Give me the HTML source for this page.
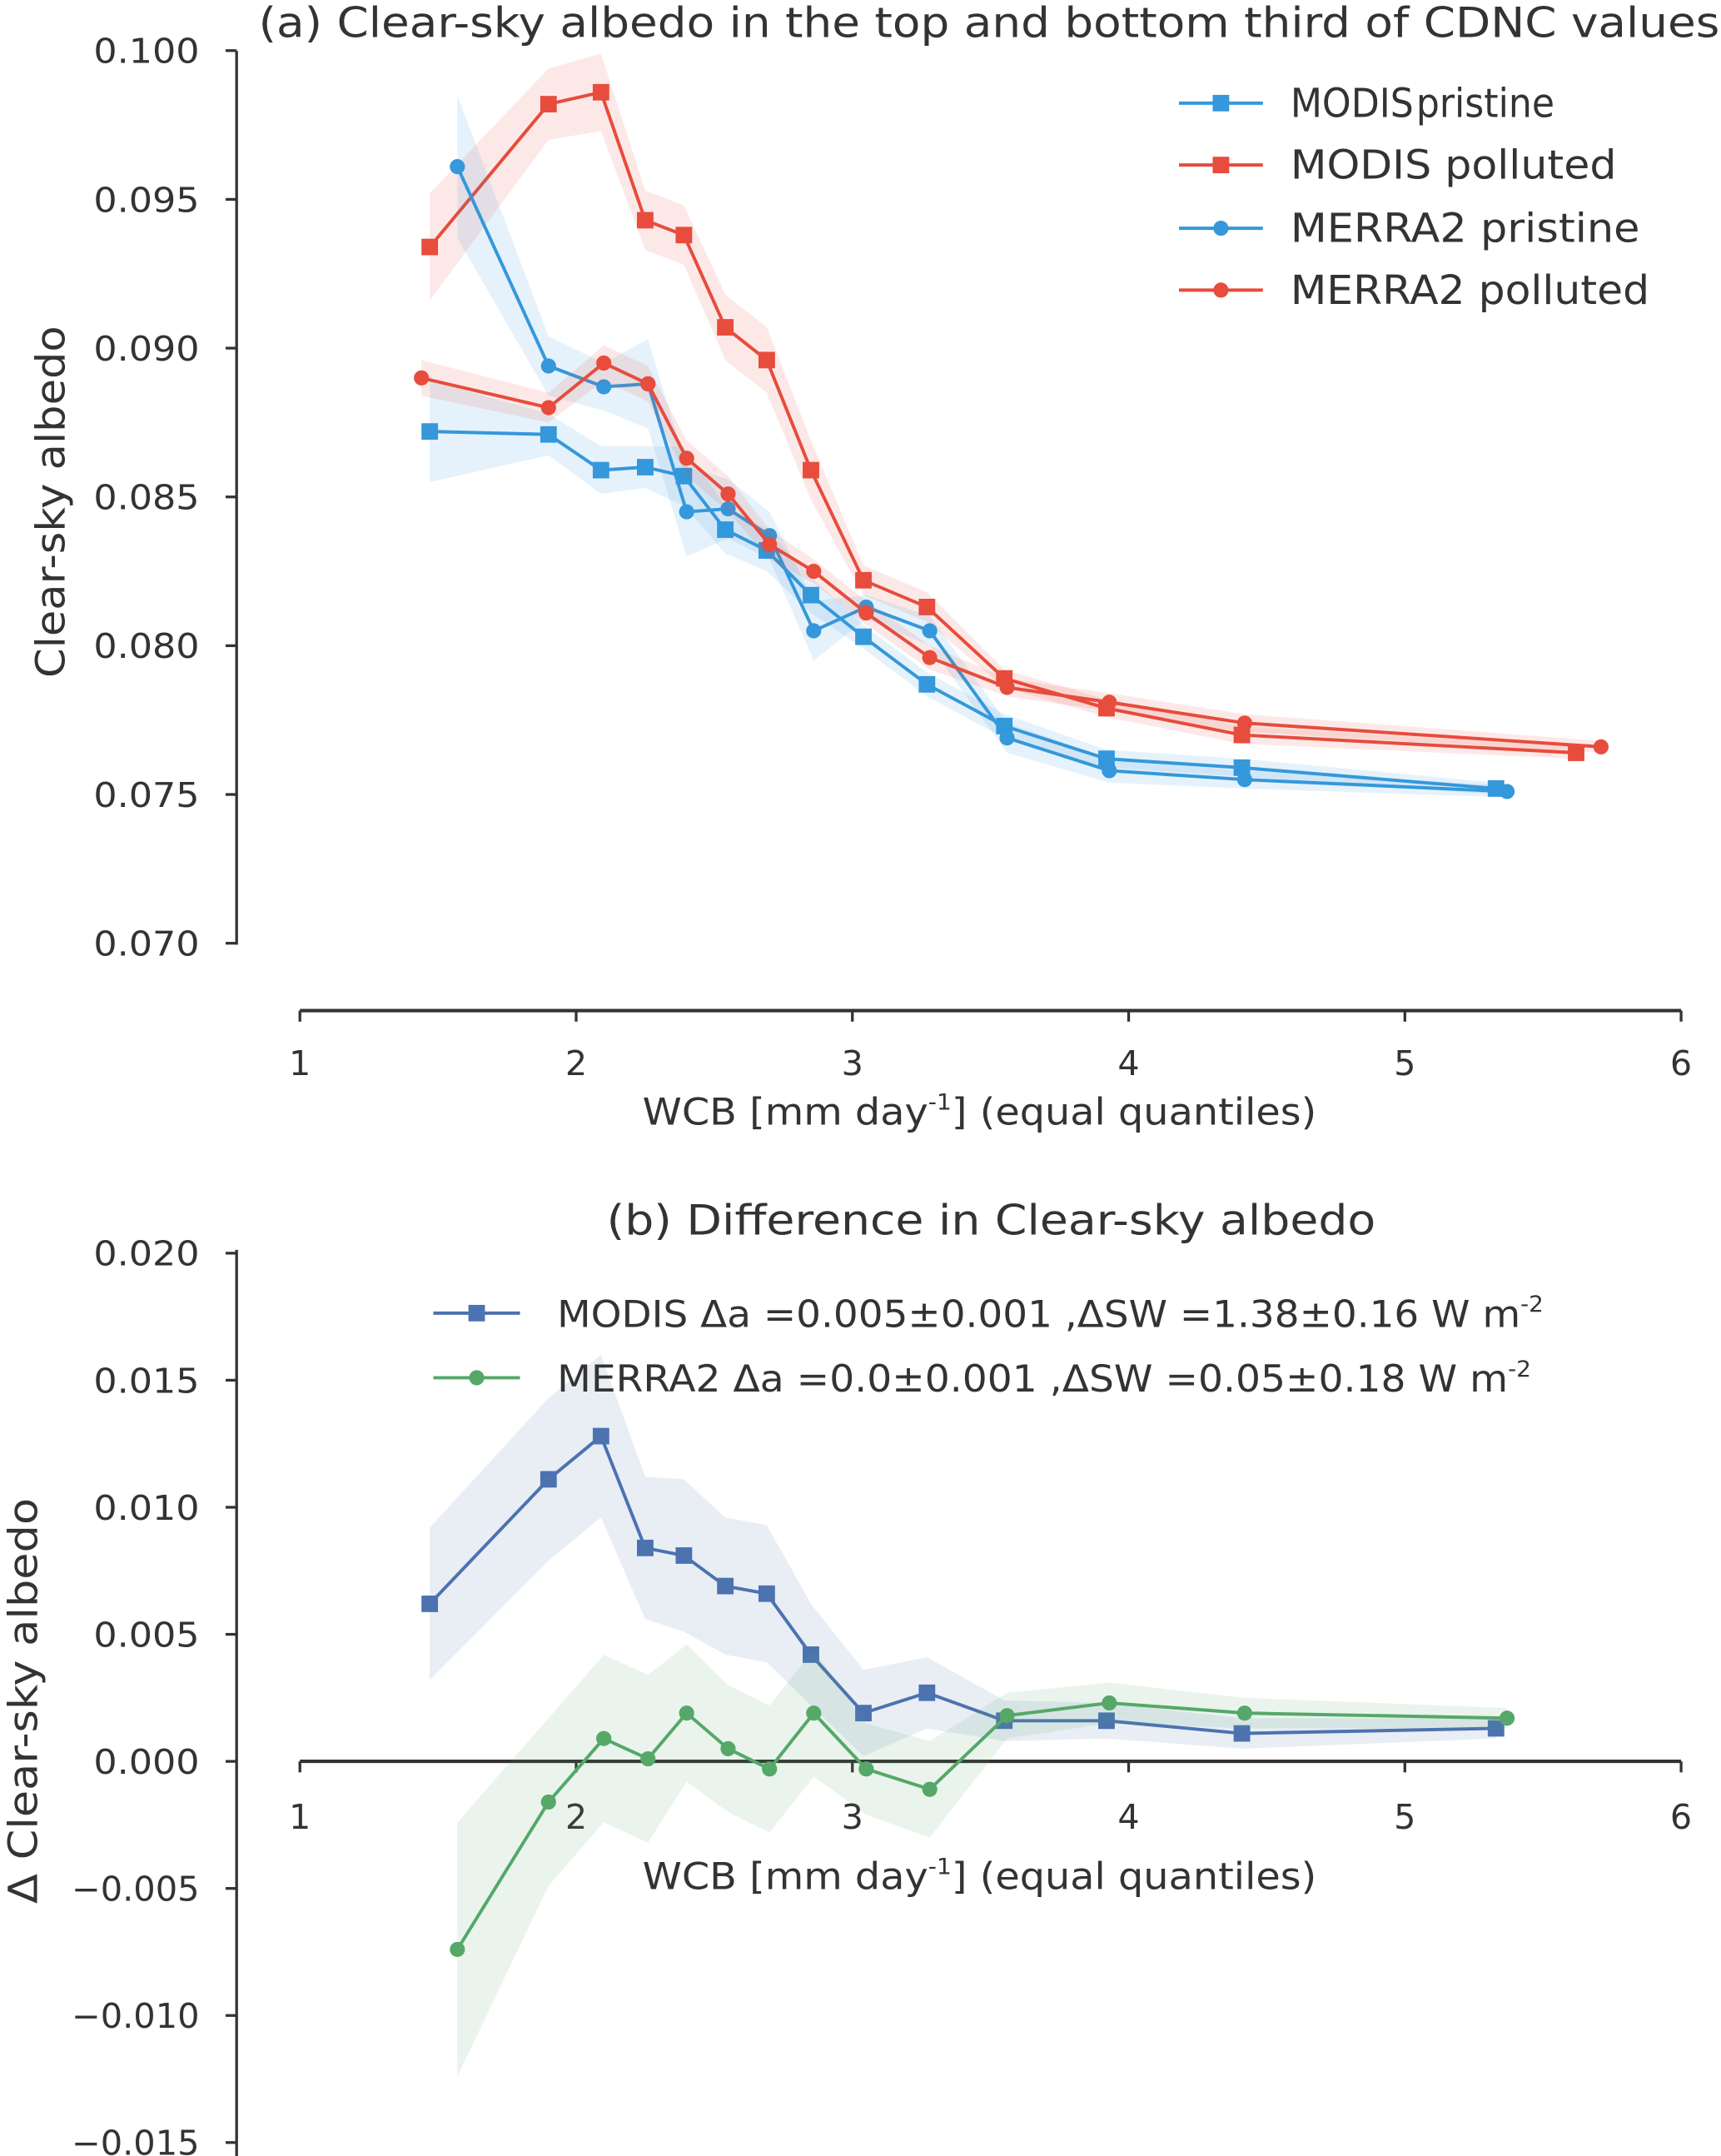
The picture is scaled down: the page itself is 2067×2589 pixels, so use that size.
<!DOCTYPE html>
<html><head><meta charset="utf-8"><style>
html,body{margin:0;padding:0;background:#fff}
svg{display:block}
text{font-family:"DejaVu Sans","Liberation Sans",sans-serif;fill:#333}
</style></head><body>
<svg id="fig" width="2067" height="2589" viewBox="0 0 1251 1568" preserveAspectRatio="none" xmlns="http://www.w3.org/2000/svg"></svg>
<script>
// ---- Panel (a) data ----
const aModisX = [1.47,1.9,2.09,2.25,2.39,2.54,2.69,2.85,3.04,3.27,3.55,3.92,4.41,5.33];
const aModisPolX = [1.47,1.9,2.09,2.25,2.39,2.54,2.69,2.85,3.04,3.27,3.55,3.92,4.41,5.62];
const aMerraPriX = [1.57,1.9,2.1,2.26,2.4,2.55,2.7,2.86,3.05,3.28,3.56,3.93,4.42,5.37];
const aMerraPolX = [1.44,1.9,2.1,2.26,2.4,2.55,2.7,2.86,3.05,3.28,3.56,3.93,4.42,5.71];
const modisPristine = [0.0872,0.0871,0.0859,0.0860,0.0857,0.0839,0.0832,0.0817,0.0803,0.0787,0.0773,0.0762,0.0759,0.0752];
const modisPristineErr = [0.0017,0.0007,0.0008,0.0007,0.0010,0.0008,0.0007,0.0006,0.0004,0.0004,0.0004,0.0003,0.0003,0.0002];
const modisPolluted = [0.0934,0.0982,0.0986,0.0943,0.0938,0.0907,0.0896,0.0859,0.0822,0.0813,0.0789,0.0779,0.0770,0.0764];
const modisPollutedErr = [0.0018,0.0012,0.0013,0.0010,0.0010,0.0011,0.0011,0.0010,0.0005,0.0005,0.0003,0.0003,0.0003,0.0002];
const merraPristine = [0.0961,0.0894,0.0887,0.0888,0.0845,0.0846,0.0837,0.0805,0.0813,0.0805,0.0769,0.0758,0.0755,0.0751];
const merraPristineErr = [0.0024,0.0010,0.0008,0.0015,0.0015,0.0010,0.0008,0.0010,0.0004,0.0005,0.0005,0.0004,0.0003,0.0002];
const merraPolluted = [0.0890,0.0880,0.0895,0.0888,0.0863,0.0851,0.0834,0.0825,0.0811,0.0796,0.0786,0.0781,0.0774,0.0766];
const merraPollutedErr = [0.0006,0.0005,0.0006,0.0006,0.0006,0.0006,0.0005,0.0004,0.0004,0.0004,0.0003,0.0003,0.0003,0.0002];
const aYTicks = [0.070,0.075,0.080,0.085,0.090,0.095,0.100];
const aYTickLabels = ["0.070","0.075","0.080","0.085","0.090","0.095","0.100"];
const xTicks = [1,2,3,4,5,6];
// ---- Panel (b) data ----
const bModisX = [1.47,1.9,2.09,2.25,2.39,2.54,2.69,2.85,3.04,3.27,3.55,3.92,4.41,5.33];
const bMerraX = [1.57,1.9,2.1,2.26,2.4,2.55,2.7,2.86,3.05,3.28,3.56,3.93,4.42,5.37];
const modisDiff = [0.0062,0.0111,0.0128,0.0084,0.0081,0.0069,0.0066,0.0042,0.0019,0.0027,0.0016,0.0016,0.0011,0.0013];
const modisDiffErr = [0.0030,0.0032,0.0032,0.0028,0.0030,0.0027,0.0027,0.0020,0.0017,0.0014,0.0008,0.0007,0.0006,0.0004];
const merraDiff = [-0.0074,-0.0016,0.0009,0.0001,0.0019,0.0005,-0.0003,0.0019,-0.0003,-0.0011,0.0018,0.0023,0.0019,0.0017];
const merraDiffErr = [0.0050,0.0033,0.0033,0.0033,0.0027,0.0025,0.0025,0.0025,0.0018,0.0019,0.0009,0.0008,0.0006,0.0004];
const bYTicks = [-0.015,-0.010,-0.005,0,0.005,0.010,0.015,0.020];
const bYTickLabels = ["\u22120.015","\u22120.010","\u22120.005","0.000","0.005","0.010","0.015","0.020"];

const NS="http://www.w3.org/2000/svg";
const svg=document.getElementById('fig');
function mk(tag,attrs,parent){const e=document.createElementNS(NS,tag);for(const k in attrs)e.setAttribute(k,attrs[k]);(parent||svg).appendChild(e);return e;}
function txt(s,attrs,parent){const e=mk('text',attrs,parent);e.textContent=s;return e;}
const xS = v => 218 + (v-1)*200.8;
const yA = v => 686 - (v-0.070)/0.005*108.2;
const yB = v => 1281 - v/0.005*92.4;

function series(g,xs,ys,es,yf,color,marker,name){
  const grp=mk('g',{},g);
  
  
  let up=xs.map((x,i)=>xS(x)+','+yf(ys[i]+es[i]));
  let dn=xs.map((x,i)=>xS(x)+','+yf(ys[i]-es[i])).reverse();
  const band=mk('polygon',{points:up.concat(dn).join(' '),fill:color,'fill-opacity':0.12,stroke:'none'},grp);
  
  
  const line=mk('polyline',{points:xs.map((x,i)=>xS(x)+','+yf(ys[i])).join(' '),fill:'none',stroke:color,'stroke-width':2.4},grp);
  
  
  xs.forEach((x,i)=>{
    let m;
    if(marker==='s') m=mk('rect',{x:xS(x)-6,y:yf(ys[i])-6,width:12,height:12,fill:color},grp);
    else m=mk('circle',{cx:xS(x),cy:yf(ys[i]),r:5.5,fill:color},grp);
    
    
  });
}
function legend(g,x1,x2,tx,y,color,marker,label,name,size,len){
  const lg=mk('g',{},g);
  
  
  mk('line',{x1:x1,x2:x2,y1:y,y2:y,stroke:color,'stroke-width':2.4},lg);
  const mx=(x1+x2)/2;
  if(marker==='s') mk('rect',{x:mx-6,y:y-6,width:12,height:12,fill:color},lg);
  else mk('circle',{cx:mx,cy:y,r:5.5,fill:color},lg);
  const t=txt('',{x:tx,y:y+10,'font-size':size,textLength:len,lengthAdjust:'spacingAndGlyphs'},lg);
  t.innerHTML=label;
}
const SA={lengthAdjust:'spacingAndGlyphs'};
function tl(o,len){return Object.assign({textLength:len},SA,o);}

// Panel a
const ga=mk('g',{});


const axA=mk('line',{x1:172,x2:172,y1:37,y2:687,stroke:'#333','stroke-width':2},ga);


aYTicks.forEach((v,i)=>{
  mk('line',{x1:164,x2:172,y1:yA(v),y2:yA(v),stroke:'#333','stroke-width':2},ga);
  const t=txt(aYTickLabels[i],tl({x:145,y:yA(v)+9,'font-size':25,'text-anchor':'end'},77),ga);
  
  
});
const xaA=mk('line',{x1:218,x2:1222,y1:735,y2:735,stroke:'#333','stroke-width':2.5},ga);


xTicks.forEach(v=>{
  mk('line',{x1:xS(v),x2:xS(v),y1:735,y2:743,stroke:'#333','stroke-width':2},ga);
  const t=txt(String(v),{x:xS(v),y:782,'font-size':25,'text-anchor':'middle'},ga);
  
  
});
const xlA=txt('',tl({x:467,y:818,'font-size':27},490),ga);
xlA.innerHTML='WCB [mm day<tspan font-size="16" dy="-11">-1</tspan><tspan dy="11">]  (equal quantiles)</tspan>';


const ylA=txt('Clear-sky albedo',tl({x:0,y:0,'font-size':29,'text-anchor':'middle',transform:'translate(47,365) rotate(-90)'},256),ga);


const tA=txt('(a) Clear-sky albedo in the top and bottom third of CDNC values',tl({x:188,y:27,'font-size':30},1062),ga);


series(ga,aModisX,modisPristine,modisPristineErr,yA,'#3498db','s','modis-pristine');
series(ga,aModisPolX,modisPolluted,modisPollutedErr,yA,'#e74c3c','s','modis-polluted');
series(ga,aMerraPriX,merraPristine,merraPristineErr,yA,'#3498db','o','merra2-pristine');
series(ga,aMerraPolX,merraPolluted,merraPollutedErr,yA,'#e74c3c','o','merra2-polluted');
legend(ga,857,918,938,75,'#3498db','s','MODIS<tspan dx="2">pristine</tspan>','legend-modis-pristine',29,192);
legend(ga,857,918,938,120,'#e74c3c','s','MODIS  polluted','legend-modis-polluted',29,237);
legend(ga,857,918,938,166,'#3498db','o','MERRA2 pristine','legend-merra2-pristine',29,254);
legend(ga,857,918,938,211,'#e74c3c','o','MERRA2 polluted','legend-merra2-polluted',29,261);

// Panel b
const gb=mk('g',{});


const axB=mk('line',{x1:172,x2:172,y1:909,y2:1568,stroke:'#333','stroke-width':2},gb);


bYTicks.forEach((v,i)=>{
  mk('line',{x1:164,x2:172,y1:yB(v),y2:yB(v),stroke:'#333','stroke-width':2},gb);
  const t=txt(bYTickLabels[i],tl({x:145,y:yB(v)+9,'font-size':25,'text-anchor':'end'},v<0?93:77),gb);
  
  
});
const xaB=mk('line',{x1:218,x2:1222,y1:1281,y2:1281,stroke:'#333','stroke-width':2.5},gb);


xTicks.forEach(v=>{
  mk('line',{x1:xS(v),x2:xS(v),y1:1281,y2:1289,stroke:'#333','stroke-width':2},gb);
  const t=txt(String(v),{x:xS(v),y:1330,'font-size':25,'text-anchor':'middle'},gb);
  
  
});
const xlB=txt('',tl({x:467,y:1374,'font-size':27},490),gb);
xlB.innerHTML='WCB [mm day<tspan font-size="16" dy="-11">-1</tspan><tspan dy="11">]  (equal quantiles)</tspan>';


const ylB=txt('\u0394 Clear-sky albedo',tl({x:0,y:0,'font-size':29,'text-anchor':'middle',transform:'translate(27,1237) rotate(-90)'},295),gb);


const tB=txt('(b) Difference in Clear-sky albedo',tl({x:441,y:898,'font-size':30},559),gb);


series(gb,bModisX,modisDiff,modisDiffErr,yB,'#4c72b0','s','modis-difference');
series(gb,bMerraX,merraDiff,merraDiffErr,yB,'#55a868','o','merra2-difference');
legend(gb,315,378,405,955,'#4c72b0','s','MODIS \u0394a =0.005\u00b10.001 ,\u0394SW =1.38\u00b10.16 W m<tspan font-size="16" dy="-11">-2</tspan>','legend-modis-difference',27,717);
legend(gb,315,378,405,1002,'#55a868','o','MERRA2 \u0394a =0.0\u00b10.001 ,\u0394SW =0.05\u00b10.18 W m<tspan font-size="16" dy="-11">-2</tspan>','legend-merra2-difference',27,708);
</script>
</body></html>
